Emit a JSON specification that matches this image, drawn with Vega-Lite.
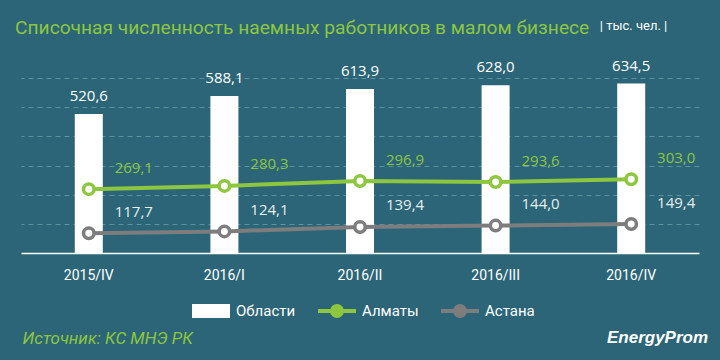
{
  "$schema": "https://vega.github.io/schema/vega-lite/v6.json",
  "width": 678,
  "height": 204,
  "autosize": {"type": "none"},
  "padding": {"left": 21, "top": 49, "right": 21, "bottom": 107},
  "background": "#2b6577",
  "config": {
    "view": {"stroke": null},
    "locale": {"number": {"decimal": ",", "thousands": " ", "grouping": [3], "currency": ["", ""]}}
  },
  "title": {
    "text": "Списочная численность наемных работников в малом бизнесе",
    "anchor": "start",
    "dx": -6,
    "dy": 35,
    "offset": 16,
    "color": "#8dc63f",
    "font": "Roboto",
    "fontSize": 19.2,
    "fontWeight": "normal"
  },
  "data": {
    "values": [
      {"q": "2015/IV", "obl": 520.6, "Алматы": 269.1, "Астана": 117.7},
      {"q": "2016/I", "obl": 588.1, "Алматы": 280.3, "Астана": 124.1},
      {"q": "2016/II", "obl": 613.9, "Алматы": 296.9, "Астана": 139.4},
      {"q": "2016/III", "obl": 628.0, "Алматы": 293.6, "Астана": 144.0},
      {"q": "2016/IV", "obl": 634.5, "Алматы": 303.0, "Астана": 149.4}
    ]
  },
  "encoding": {
    "x": {
      "field": "q",
      "type": "nominal",
      "sort": null,
      "scale": {"paddingInner": 0, "paddingOuter": 0},
      "axis": {
        "labelAngle": 0,
        "labelColor": "white",
        "labelFont": "Roboto",
        "labelFontSize": 14,
        "labelPadding": 15,
        "ticks": false,
        "domainColor": "white",
        "domainWidth": 1.5,
        "title": "EnergyProm",
        "titleX": 636,
        "titleY": 84,
        "titleAlign": "center",
        "titleBaseline": "middle",
        "titleColor": "white",
        "titleFont": "Liberation Sans",
        "titleFontStyle": "italic",
        "titleFontWeight": "bold",
        "titleFontSize": 17
      }
    }
  },
  "layer": [
    {
      "layer": [
        {
          "mark": {"type": "bar", "width": 28},
          "encoding": {
            "y": {
              "field": "obl",
              "type": "quantitative",
              "scale": {"domain": [0, 764], "nice": false},
              "axis": {
                "labels": false,
                "ticks": false,
                "domain": false,
                "grid": false,
                "title": "Источник: КС МНЭ РК",
                "titleAngle": 0,
                "titleX": 1,
                "titleY": 289,
                "titleAlign": "left",
                "titleBaseline": "middle",
                "titleColor": "#8dc63f",
                "titleFont": "Roboto",
                "titleFontStyle": "italic",
                "titleFontWeight": "normal",
                "titleFontSize": 17
              }
            },
            "color": {
              "datum": "Области",
              "title": null,
              "scale": {"domain": ["Области", "Алматы", "Астана"], "range": ["white", "#8dc63f", "#7d7d7d"]},
              "legend": {
                "orient": "none",
                "legendX": 169,
                "legendY": 241,
                "direction": "horizontal",
                "title": null,
                "symbolSize": 1444,
                "symbolStrokeWidth": 4,
                "labelColor": "white",
                "labelFont": "Roboto",
                "labelFontSize": 15,
                "labelOffset": 4,
                "columnPadding": 14,
                "encode": {
                  "symbols": {
                    "update": {
                      "shape": {"signal": "datum.value === 'Области' ? 'M-0.895,-0.263H0.895V0.263H-0.895Z' : 'M-1,0H-0.26M0.26,0H1M-0.26,0A0.26,0.26 0 1,0 0.26,0A0.26,0.26 0 1,0 -0.26,0'"},
                      "fill": {"signal": "datum.value === 'Области' ? 'white' : datum.value === 'Алматы' ? '#8dc63f' : '#7d7d7d'"},
                      "stroke": {"signal": "datum.value === 'Области' ? 'white' : datum.value === 'Алматы' ? '#8dc63f' : '#7d7d7d'"},
                      "strokeWidth": {"value": 4},
                      "opacity": {"value": 1},
                      "fillOpacity": {"value": 1},
                      "strokeOpacity": {"value": 1}
                    }
                  }
                }
              }
            }
          }
        },
        {
          "mark": {"type": "text", "color": "white", "font": "Open Sans", "fontSize": 15, "baseline": "alphabetic", "dy": -13},
          "encoding": {
            "y": {"field": "obl", "type": "quantitative"},
            "text": {"field": "obl", "type": "quantitative", "format": ".1f"}
          }
        }
      ]
    },
    {
      "transform": [{"fold": ["Астана", "Алматы"], "as": ["city", "val"]}],
      "encoding": {
        "y": {
          "field": "val",
          "type": "quantitative",
          "scale": {"domain": [50, 750], "nice": false},
          "axis": {
            "orient": "right",
            "values": [150, 250, 350, 450, 550, 650],
            "grid": true,
            "gridColor": "#5d93a1",
            "gridDash": [5, 4],
            "gridWidth": 1,
            "labels": false,
            "ticks": false,
            "domain": false,
            "title": "| тыс. чел. |",
            "titleAngle": 0,
            "titleX": -66,
            "titleY": -24,
            "titleAlign": "center",
            "titleBaseline": "middle",
            "titleColor": "white",
            "titleFont": "Roboto",
            "titleFontWeight": "normal",
            "titleFontSize": 13
          }
        }
      },
      "layer": [
        {
          "mark": {"type": "line", "strokeWidth": 4},
          "encoding": {"color": {"field": "city", "type": "nominal", "title": null}}
        },
        {
          "mark": {"type": "point", "filled": false, "fill": "white", "fillOpacity": 1, "strokeWidth": 3.5, "size": 110, "opacity": 1},
          "encoding": {"stroke": {"field": "city", "type": "nominal", "scale": {"domain": ["Алматы", "Астана"], "range": ["#8dc63f", "#7d7d7d"]}, "legend": null}}
        },
        {
          "mark": {"type": "text", "font": "Open Sans", "fontSize": 15, "baseline": "middle", "dx": 45, "dy": -21.5},
          "encoding": {
            "text": {"field": "val", "type": "quantitative", "format": ".1f"},
            "color": {"condition": {"test": "datum.city === 'Алматы'", "value": "#8dc63f"}, "value": "#e4eef1"}
          }
        }
      ]
    }
  ],
  "resolve": {"scale": {"y": "independent"}}
}
